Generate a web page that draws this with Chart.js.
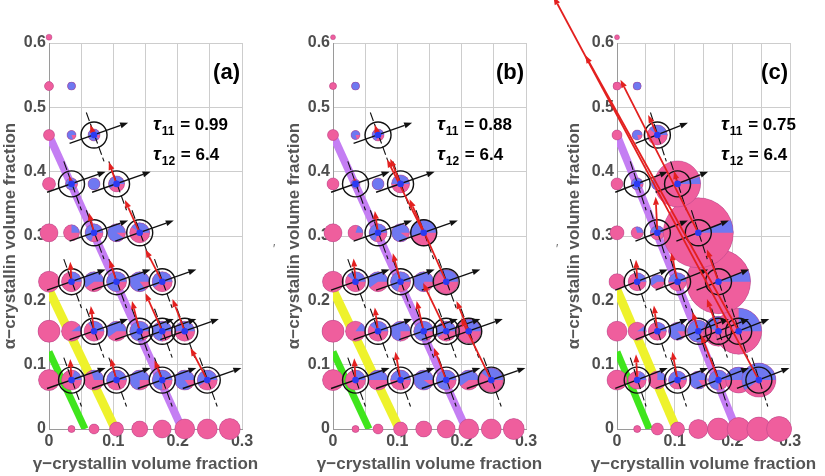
<!DOCTYPE html>
<html>
<head>
<meta charset="utf-8">
<script src="https://cdn.jsdelivr.net/npm/chart.js@4.4.1/dist/chart.umd.min.js"></script>
<style>
html, body { margin: 0; padding: 0; background: #fff; }
#wrap { position: relative; width: 825px; height: 476px; overflow: hidden; }
canvas { position: absolute; top: 0; }
</style>
</head>
<body>
<div id="wrap">
<canvas id="pa" width="284" height="476" style="left:0px"></canvas>
<canvas id="pb" width="284" height="476" style="left:284px"></canvas>
<canvas id="pc" width="285" height="476" style="left:540px"></canvas>
</div>
<script>
// composition lattice (gamma along x, alpha along y)
const gammaVals = [0, 0.035, 0.07, 0.105, 0.141, 0.176, 0.211, 0.246, 0.281];
const alphaVals = [0, 0.076, 0.152, 0.229, 0.305, 0.381, 0.457, 0.533, 0.609];

// blue (gamma-rich) share of each pie, one row per alpha value; row 0 starts at gamma index 1
const blueA = [
  [0, 0, 0, 0, 0, 0, 0, 0],
  [0, 0.2, 0.3, 0.55, 0.75, 0.75, 0.85, 0.6],
  [0, 0.1, 0.35, 0.6, 0.8, 0.75, 0.5],
  [0, 0.25, 0.6, 0.8, 0.85, 0.6],
  [0, 0.25, 0.7, 0.9, 0.4],
  [0, 0.9, 1, 0.6],
  [0, 0.8, 0.9],
  [0, 1],
  [0]
];
const blueB = [
  [0, 0, 0, 0, 0, 0, 0, 0],
  [0, 0.25, 0.5, 0.5, 0.9, 0.8, 0.6, 0.4],
  [0, 0.15, 0.4, 0.75, 0.8, 0.6, 0.35],
  [0, 0.4, 0.6, 0.7, 0.8, 0.35],
  [0, 0.2, 0.7, 0.9, 0.55],
  [0, 0.95, 1, 0.5],
  [0, 0.8, 0.7],
  [0, 1],
  [0]
];
const blueC = [
  [0, 0, 0, 0, 0, 0, 0, 0],
  [0, 0.2, 0.25, 0.6, 0.85, 0.75, 0.5, 0.6],
  [0, 0.1, 0.3, 0.85, 0.8, 0.45, 0.25],
  [0, 0.3, 0.6, 0.5, 0.5, 0.06],
  [0, 0.3, 0.5, 0.5, 0.06],
  [0, 0.9, 1, 0.05],
  [0, 0.8, 0.4],
  [0, 1],
  [0]
];

// bubble radius of each pie
const rA = [
  [3.5, 5, 7, 8, 9, 10, 10, 10.5],
  [10.5, 10, 10, 10, 10, 10, 10, 10],
  [11, 10, 10, 10, 10, 10, 10],
  [10.5, 10, 10, 10, 10, 10],
  [9, 8, 9, 9, 10],
  [6.5, 6, 6, 8],
  [5.5, 4.5, 6],
  [4.5, 4],
  [3]
];
const rB = [
  [3.5, 5, 7, 8, 9, 10, 10, 10.5],
  [10.5, 10, 10, 10, 10, 10, 10, 12],
  [11, 10, 10, 10, 10, 10, 12],
  [10.5, 10, 10, 10, 10, 12],
  [9, 7.5, 9, 9, 13],
  [6, 4.5, 6, 9],
  [5.5, 4.5, 6],
  [3.5, 4],
  [2.5]
];
const rC = [
  [3.5, 6, 7, 9.5, 11, 11.5, 12, 12.5],
  [10, 9, 9, 9, 9, 10, 13, 17],
  [10, 9, 9, 9, 11, 15, 23],
  [8, 9, 7, 9, 10, 32],
  [7, 6, 7, 8, 35],
  [6, 6, 6, 23],
  [5, 5, 10],
  [4, 4],
  [2.5]
];

// circled lattice points [gamma index, alpha index]
const circled = [[1,1],[3,1],[5,1],[7,1],[2,2],[4,2],[5,2],[6,2],[1,3],[3,3],[5,3],[2,4],[4,4],[1,5],[3,5],[2,6]];

// red growth vectors (dgamma, dalpha) for each circled point
const redA = [[-0.002,0.033],[-0.009,0.034],[-0.012,0.031],[-0.026,0.05],[-0.005,0.039],[-0.012,0.047],[-0.026,0.059],[-0.019,0.05],
              [-0.002,0.031],[-0.011,0.034],[-0.026,0.05],[-0.008,0.031],[-0.023,0.051],[-0.003,0.012],[-0.012,0.034],[-0.006,0.016]];
const redB = [[-0.002,0.034],[-0.008,0.044],[-0.019,0.05],[-0.047,0.096],[-0.005,0.037],[-0.011,0.047],[-0.036,0.075],[-0.019,0.047],
              [-0.003,0.036],[-0.012,0.044],[-0.057,0.128],[-0.005,0.034],[-0.057,0.114],[-0.002,0.009],[-0.016,0.039],[-0.005,0.016]];
const redC = [[-0.002,0.04],[-0.009,0.044],[-0.03,0.07],[-0.356,0.596],[-0.006,0.04],[-0.01,0.03],[-0.02,0.05],[-0.266,0.429],
              [-0.002,0.034],[-0.011,0.045],[-0.02,0.05],[-0.003,0.056],[-0.135,0.238],[0,0],[-0.006,0.02],[-0.016,0.031]];

// black eigen-direction arrow (tail, head) and dashed direction (top, bottom), offsets from the point
const blackTail = [-0.038, -0.013];
const blackHead = [0.053, 0.019];
const dashTop = [-0.012, 0.035];
const dashBottom = [0.0155, -0.041];

// spinodal-type lines
const greenLine = [{x: 0, y: 0.12}, {x: 0.056, y: 0}];
const yellowLine = [{x: 0, y: 0.216}, {x: 0.103, y: 0}];
const purpleLine = [{x: 0, y: 0.456}, {x: 0.207, y: 0}];

const panelTags = ['(a)', '(b)', '(c)'];
const tau11 = ['0.99', '0.88', '0.75'];
const tau12 = ['6.4', '6.4', '6.4'];
const xTitle = 'γ−crystallin volume fraction';
const yTitle = 'α−crystallin volume fraction';

const PINK = '#ef5e9d';
const BLUE = '#6f78f1';
const FONT = '"Liberation Sans", Arial, sans-serif';
Chart.defaults.font.family = FONT;

function arrow(ctx, x0, y0, x1, y1, color, lw, hl, hw) {
  const len = Math.hypot(x1 - x0, y1 - y0);
  if (len < 1) return;
  const a = Math.atan2(y1 - y0, x1 - x0);
  const h = Math.min(hl, len);
  const bx = x1 - h * Math.cos(a), by = y1 - h * Math.sin(a);
  ctx.strokeStyle = color; ctx.fillStyle = color; ctx.lineWidth = lw;
  ctx.setLineDash([]);
  ctx.beginPath(); ctx.moveTo(x0, y0); ctx.lineTo(bx, by); ctx.stroke();
  ctx.beginPath();
  ctx.moveTo(x1, y1);
  ctx.lineTo(bx + hw * Math.sin(a), by - hw * Math.cos(a));
  ctx.lineTo(bx - hw * Math.sin(a), by + hw * Math.cos(a));
  ctx.closePath(); ctx.fill();
}

function buildPoints(blue, rad) {
  const pts = [], fr = [];
  blue.forEach((row, j) => {
    const i0 = j === 0 ? 1 : 0;
    row.forEach((f, k) => {
      pts.push({x: gammaVals[i0 + k], y: alphaVals[j], r: rad[j][k]});
      fr.push(f);
    });
  });
  return {pts, fr};
}

function overlay(p, fr, red, mark) {
  return {
    id: 'overlay' + p,
    afterDatasetsDraw(chart) {
      const ctx = chart.ctx, sx = chart.scales.x, sy = chart.scales.y;
      const ca = chart.chartArea;
      ctx.save();
      // pies: pink base (again, so points outside the area show too) plus blue wedge
      const meta = chart.getDatasetMeta(0);
      meta.data.forEach((el, k) => {
        const f = fr[k], r = el.options.radius;
        ctx.fillStyle = PINK;
        ctx.beginPath(); ctx.arc(el.x, el.y, r, 0, Math.PI * 2); ctx.fill();
        if (f > 0) {
          ctx.fillStyle = BLUE;
          ctx.beginPath();
          if (f >= 1) { ctx.arc(el.x, el.y, r, 0, Math.PI * 2); }
          else { ctx.moveTo(el.x, el.y); ctx.arc(el.x, el.y, r, 0, -2 * Math.PI * f, true); ctx.closePath(); }
          ctx.fill();
        }
        ctx.strokeStyle = 'rgba(150,60,130,0.45)'; ctx.lineWidth = 0.8;
        ctx.beginPath(); ctx.arc(el.x, el.y, r, 0, Math.PI * 2); ctx.stroke();
      });
      const P = (g, a) => [sx.getPixelForValue(g), sy.getPixelForValue(a)];
      circled.forEach(([i, j]) => {
        const g = gammaVals[i], a = alphaVals[j];
        const t = P(g + dashTop[0], a + dashTop[1]), b = P(g + dashBottom[0], a + dashBottom[1]);
        ctx.strokeStyle = '#111'; ctx.lineWidth = 1.1; ctx.setLineDash([9, 3]);
        ctx.beginPath(); ctx.moveTo(t[0], t[1]); ctx.lineTo(b[0], b[1]); ctx.stroke();
        ctx.setLineDash([]);
        const c = P(g, a);
        ctx.lineWidth = 1.4;
        ctx.beginPath(); ctx.arc(c[0], c[1], 13, 0, Math.PI * 2); ctx.stroke();
      });
      circled.forEach(([i, j]) => {
        const g = gammaVals[i], a = alphaVals[j];
        const t = P(g + blackTail[0], a + blackTail[1]), h = P(g + blackHead[0], a + blackHead[1]);
        arrow(ctx, t[0], t[1], h[0], h[1], '#111', 1.4, 8, 3);
      });
      circled.forEach(([i, j], n) => {
        const g = gammaVals[i], a = alphaVals[j];
        const c = P(g, a), h = P(g + red[n][0], a + red[n][1]);
        arrow(ctx, c[0], c[1], h[0], h[1], '#e3201f', 1.8, 8, 3);
        ctx.fillStyle = '#2b3af2';
        ctx.beginPath(); ctx.arc(c[0], c[1], 3.3, 0, Math.PI * 2); ctx.fill();
      });
      // panel tag and parameters
      ctx.fillStyle = '#000';
      ctx.textBaseline = 'alphabetic';
      ctx.textAlign = 'right';
      ctx.font = 'bold 22px ' + FONT;
      ctx.fillText(panelTags[p], ca.right - 2, 79);
      ctx.textAlign = 'left';
      const tx = ca.left + 104;
      [[tau11[p], 130, '11'], [tau12[p], 160, '12']].forEach(([v, y, sub]) => {
        ctx.font = 'bold italic 19px ' + FONT;
        ctx.fillText('τ', tx, y);
        const w = ctx.measureText('τ').width;
        ctx.font = 'bold 12px ' + FONT;
        ctx.fillText(sub, tx + w + 1, y + 5);
        const w2 = ctx.measureText(sub).width;
        ctx.font = 'bold 17px ' + FONT;
        ctx.fillText(' = ' + v, tx + w + w2 + 2, y);
      });
      // x axis title, wider than the axis itself
      ctx.fillStyle = '#555';
      ctx.textAlign = 'center';
      ctx.textBaseline = 'middle';
      ctx.font = 'bold 17px ' + FONT;
      ctx.fillText(xTitle, (ca.left + ca.right) / 2, 464);
      if (mark) {
        ctx.fillStyle = '#666'; ctx.font = '12px ' + FONT;
        ctx.textAlign = 'left';
        ctx.fillText('′', mark, 250);
      }
      ctx.restore();
    }
  };
}

function makePanel(id, p, blue, rad, red, padLeft, yWidth, padRight, mark) {
  const {pts, fr} = buildPoints(blue, rad);
  const tickFont = {size: 16, weight: 'bold'};
  const titleFont = {size: 17, weight: 'bold'};
  return new Chart(document.getElementById(id), {
    type: 'bubble',
    data: {
      datasets: [
        {data: pts, backgroundColor: PINK, borderColor: 'rgba(0,0,0,0)', borderWidth: 0, clip: false, order: 0},
        {type: 'line', data: purpleLine, borderColor: '#c47ef3', borderWidth: 8, pointRadius: 0, borderCapStyle: 'butt', order: 1},
        {type: 'line', data: yellowLine, borderColor: '#eef22c', borderWidth: 9, pointRadius: 0, borderCapStyle: 'butt', order: 1},
        {type: 'line', data: greenLine, borderColor: '#3fe51c', borderWidth: 7, pointRadius: 0, borderCapStyle: 'butt', order: 1}
      ]
    },
    options: {
      responsive: false,
      animation: false,
      events: [],
      layout: {padding: {left: padLeft, top: 43, right: padRight, bottom: 0}},
      plugins: {legend: {display: false}, tooltip: {enabled: false}},
      scales: {
        x: {
          type: 'linear', min: 0, max: 0.3,
          ticks: {
            stepSize: 0.05, autoSkip: false, maxRotation: 0, padding: 3,
            color: '#4d4d4d', font: tickFont,
            callback: v => { const k = Math.round(v * 20); return k % 2 === 0 ? String(k / 20) : ''; }
          },
          grid: {color: '#cdcdcd', drawTicks: false},
          border: {color: '#9a9a9a'},
          title: {display: false},
          afterFit: s => { s.height = 47; }
        },
        y: {
          type: 'linear', min: 0, max: 0.6,
          ticks: {
            stepSize: 0.1, padding: 3, color: '#4d4d4d', font: tickFont,
            callback: v => String(Math.round(v * 10) / 10)
          },
          grid: {color: '#cdcdcd', drawTicks: false},
          border: {color: '#9a9a9a'},
          title: {display: true, text: yTitle, color: '#555', font: titleFont, padding: {top: 0, bottom: 0}},
          afterFit: s => { s.width = yWidth; }
        }
      }
    },
    plugins: [overlay(p, fr, red, mark)]
  });
}

makePanel('pa', 0, blueA, rA, redA, 0, 49, 42, 273);
makePanel('pb', 1, blueB, rB, redB, 0, 49, 42, 0);
makePanel('pc', 2, blueC, rC, redC, 24, 53, 15, 16);
</script>
</body>
</html>
